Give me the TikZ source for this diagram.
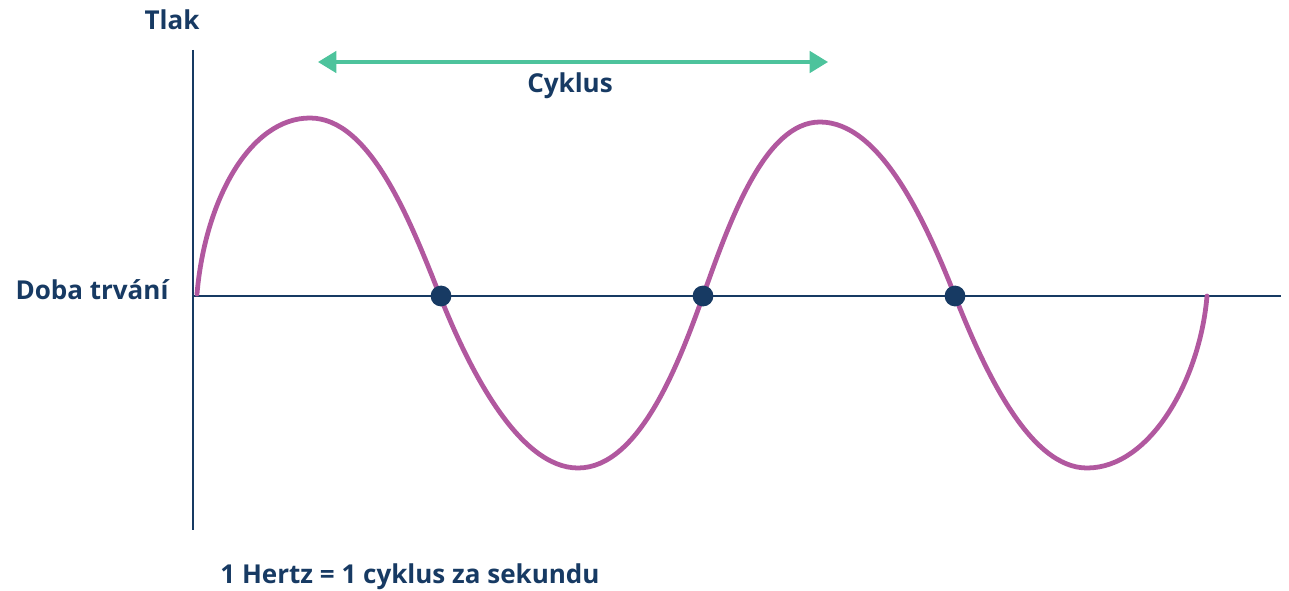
\documentclass[tikz,border=0pt]{standalone}
\usepackage{fontspec}
\setmainfont{Open Sans}
\usetikzlibrary{arrows.meta, positioning}
\definecolor{navy}{HTML}{173A63}
\definecolor{wavepink}{HTML}{B1589F}
\definecolor{cycgreen}{HTML}{4DC39C}
\tikzset{
  axisline/.style = {draw=navy, line width=1.8pt},
  waveline/.style = {draw=wavepink, line width=3.4pt, line cap=round},
  cycarrow/.style = {draw=cycgreen, line width=2.2pt,
                     {Triangle[length=4.6mm, width=5.4mm]}-{Triangle[length=4.6mm, width=5.4mm]}},
  zerodot/.style  = {circle, fill=navy, minimum size=5.2mm, inner sep=0pt},
  lab/.style      = {font=\fontsize{18.5}{22}\selectfont\bfseries, text=navy, inner sep=0pt},
}
\begin{document}
\begin{tikzpicture}[x=0.025cm, y=-0.025cm]
  \useasboundingbox (0,0) rectangle (1289,591);
  \coordinate (O) at (193,296);
  \coordinate (Ytop) at (193,50);
  \coordinate (Ybot) at (193,530);
  \coordinate (Xend) at (1281,296);
  \coordinate (CL) at (318,62);
  \coordinate (CR) at (828,62);
  \draw[axisline] (Ytop) -- (Ybot);
  \draw[axisline] (O) -- (Xend);
  % pressure wave
  \draw[waveline] (197,294)
    .. controls (205,200) and (250,118) .. (310,118)
    .. controls (370,118) and (410,220) .. (440,296)
    .. controls (470,372) and (520,468) .. (578,468)
    .. controls (640,468) and (680,360) .. (703,296)
    .. controls (730,220) and (765,122) .. (820,122)
    .. controls (880,122) and (925,220) .. (955,296)
    .. controls (985,372) and (1030,468) .. (1087,468)
    .. controls (1150,468) and (1200,380) .. (1207,296);
  \draw[cycarrow] (CL) -- (CR);
  \node[zerodot] (z1) at (441,296) {};
  \node[zerodot] (z2) at (703,296) {};
  \node[zerodot] (z3) at (955,296) {};
  \node[lab] (tlak) at (172,20) {Tlak};
  \node[lab] (doba) at (92,290) {Doba trvání};
  \node[lab] (cyk) at (570,86) {Cyklus};
  \node[lab] (hz) at (410,577) {1 Hertz = 1 cyklus za sekundu};
\end{tikzpicture}
\end{document}
